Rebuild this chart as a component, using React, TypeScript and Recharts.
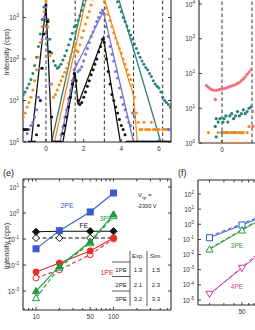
import React from 'react'
import { ComposedChart, Line, Scatter, XAxis, YAxis, ReferenceLine } from 'recharts'

const FONT = '"Liberation Sans", Arial, sans-serif'
const AX = '#2b2b2b'
const TEAL = '#2a8078'
const ORANGE = '#f98a1c'
const PURPLE = '#7975c9'
const BLACK = '#111111'
const PINK = '#f47079'
const BLUE = '#3a5ad2'
const GREEN = '#1f9a3e'
const RED = '#ee2a2a'
const MAGENTA = '#cc3aa6'

// (d) spectra: electron energy (eV) and counts per series
const energy = [
  -1.2, -1.1, -1.0, -0.9, -0.8, -0.7, -0.6, -0.5, -0.4, -0.3,
  -0.2, -0.1, 0, 0.1, 0.2, 0.3, 0.4, 0.5, 0.6, 0.7,
  0.8, 0.9, 1.0, 1.1, 1.2, 1.3, 1.4, 1.5, 1.6, 1.7,
  1.8, 1.9, 2.0, 2.1, 2.2, 2.3, 2.4, 2.5, 2.6, 2.7,
  2.8, 2.9, 3.0, 3.1, 3.2, 3.3, 3.4, 3.5, 3.6, 3.7,
  3.8, 3.9, 4.0, 4.1, 4.2, 4.3, 4.4, 4.5, 4.6, 4.7,
  4.8, 4.9, 5.0, 5.1, 5.2, 5.3, 5.4, 5.5, 5.6, 5.7,
  5.8, 5.9, 6.0, 6.1, 6.2, 6.3, 6.4, 6.5, 6.6,
]
const tealCounts = [
  14, 16, 20, 25, 32, 45, 70, 110, 200, 400,
  900, 1800, 3500, 900, 300, 140, 90, 70, 60, 65,
  75, 95, 120, 160, 220, 300, 420, 600, 650, 850,
  1100, 1500, 2000, 2700, 3500, 4500, 6000, 7000, 8000, 9000,
  9500, 9000, 9000, 8500, 7500, 6500, 5500, 4500, 3800, 3000,
  2400, 1800, 1400, 1000, 800, 620, 480, 380, 300, 230,
  180, 140, 110, 90, 75, 62, 55, 45, 38, 30,
  25, 22, 20, 16, 12, 10, 9, 8, 7,
]
const orangeCounts = [
  4, 5, 7, 9, 12, 18, 30, 55, 110, 250,
  600, 1400, 2500, 600, 120, 25, 12, 14, 18, 24,
  30, 38, 48, 60, 80, 110, 150, 200, 160, 150,
  220, 330, 480, 700, 1000, 1400, 2000, 2800, 3500, 4000,
  4200, 4000, 3300, 2400, 1700, 1200, 850, 600, 430, 320,
  240, 180, 140, 100, 75, 55, 42, 32, 24, 12,
  5, 3, 2, 2, 3, 2, 2, 2, 3, 2,
  2, 2, 2, 1, 2, 2, 2, 2, 2,
]
const purpleCounts = [
  1, 1, 1.6, 2, 2.5, 3, 4, 6, 12, 60,
  300, 1000, 1800, 300, 25, 4, 1, 1, 1, 1,
  1.5, 2.3, 4, 6, 11, 18, 30, 55, 75, 50,
  55, 65, 90, 130, 180, 250, 350, 450, 600, 800,
  1000, 1300, 1500, 1200, 600, 350, 200, 130, 90, 50,
  35, 20, 12, 8, 6, 4, 3, 2.5, 5, 4,
  1, 1, 1, 1, 1, 1, 1, 1, 1, 1,
  1, 1, 1, 1, 1, 1, 1, 2, 2,
]
const blackCounts = [
  2, 2, 2, 1, 1, 1, 1, 1.5, 2.5, 10,
  60, 400, 2000, 800, 150, 4, 1, 1, 1, 1,
  1, 1.6, 2.5, 4, 7, 12, 25, 45, 30, 10,
  8, 9, 12, 16, 22, 30, 42, 55, 75, 100,
  150, 200, 300, 250, 100, 50, 25, 14, 10, 7,
  5, 3.5, 2.5, 2, 1.5, 1, 1, 1, 1, 1,
  1, 1, 1, 1, 1, 1, 1, 1, 1, 1,
  1, 1, 1, 1, 1, 1, 1, 1, 1,
]
const photonLines = [0, 1.55, 3.1, 4.65, 6.2]

// fitted curves (vertices)
const tealFitE = [0.3, 2.8, 6.1]
const tealFitI = [1, 120000, 1]
const orangeFitE = [0.45, 2.54, 4.65, 4.85]
const orangeFitI = [1, 19000, 13, 1]
const purpleFitE = [0.75, 1.55, 3.05, 4.65]
const purpleFitI = [1, 60, 1400, 1]
const blackFitAE = [-0.78, 0, 0.32]
const blackFitAI = [1, 2000, 1]
const blackFitBE = [0.9, 1.55, 1.7, 3.05, 3.95]
const blackFitBI = [1, 47, 8, 330, 1]

// top-right spectra
const pinkE = [-0.8, -0.7, -0.6, -0.5, -0.4, -0.3, -0.2, -0.1, 0, 0.1, 0.2, 0.3, 0.4, 0.5, 0.6, 0.7, 0.8, 0.9, 1.0, 1.1, 1.2, 1.3, 1.4, 1.5, -0.35, 1.58, 1.6]
const pinkI = [45, 40, 36, 34, 33, 33, 34, 35, 36, 37, 38, 40, 42, 44, 46, 48, 52, 56, 62, 70, 80, 95, 110, 130, 18, 8, 3]
const tealBE = [-0.35, -0.3, -0.2, -0.1, 0, 0.05, 0.1, 0.2, 0.25, 0.3, 0.4, 0.5, 0.6, 0.65, 0.7, 0.8, 0.9, 1.0, 1.1, 1.2, 1.3, 1.4, 1.5, -0.3]
const tealBI = [3, 5, 4, 5, 2, 4, 5, 6, 2, 4, 6, 7, 5, 2, 6, 8, 6, 7, 9, 7, 8, 10, 11, 1.5]
const orangeBE = [-1.15, -0.8, -0.7, -0.4, -0.2, -0.05, 0, 0.1, 0.2, 0.3, 0.4, 0.45, 0.5, 0.6, 0.7, 0.8, 0.85, 0.9, 1.0, 1.1, 1.2, 1.25, 1.3, 1.4]
const orangeBI = [1, 1, 2, 1, 2, 1, 1, 2, 2, 1, 2, 1, 2, 2, 1, 2, 1, 2, 2, 2, 1, 1, 2, 3]

// (e) yield vs laser intensity
const intensE = [10, 20, 50, 100]
const pe2 = [0.042, 0.21, 1.1, 5.9]
const feExp = [0.19, 0.2, 0.2, 0.2]
const feSim = [0.11, 0.11, 0.11, 0.11]
const pe3 = [1e-3, 9e-3, 0.08, 0.9]
const pe3Sim = [5.4e-4, 8e-3, 0.07, 0.77]
const pe1 = [5.4e-3, 0.012, 0.035, 0.11]
const pe1Sim = [3.2e-3, 6.5e-3, 0.025, 0.1]

// (f)
const intensF = [20, 50, 100]
const f2pe = [0.13, 0.9, 4]
const f2peSim = [0.16, 1.1, 5]
const f3pe = [0.022, 0.4, 3.5]
const f3peSim = [0.025, 0.45, 4.2]
const f4pe = [2.5e-5, 1.3e-3, 0.025]
const f4peSim = [2.2e-5, 1.5e-3, 0.035]

const tableRows = [
  ['1PE', '1.3', '1.5'],
  ['2PE', '2.1', '2.3'],
  ['3PE', '3.2', '3.3'],
]

type Pt = { x: number; y: number }
const pts = (xs: number[], ys: number[]): Pt[] =>
  xs.map((x, i) => ({ x, y: ys[i] })).filter((p) => p.y != null)

const axisLine = { stroke: AX, strokeWidth: 1.1 }
const tickText = { fontFamily: FONT, fontSize: 6.5, fill: '#333' }

const LeftPowTick = (props: any) => {
  const { x, y, payload } = props
  const ax = x + 3
  const e = Math.round(Math.log10(payload.value))
  return (
    <g>
      <line x1={ax} x2={ax + 3} y1={y} y2={y} stroke={AX} strokeWidth={0.9} />
      <text x={x - 1} y={y + 2.5} textAnchor="end" {...tickText}>
        10<tspan dy={-2.8} fontSize={4.6}>{e}</tspan>
      </text>
    </g>
  )
}
const RightTick = (props: any) => {
  const ax = props.x - 3
  return <line x1={ax} x2={ax - 3} y1={props.y} y2={props.y} stroke={AX} strokeWidth={0.9} />
}
const TopTick = (props: any) => {
  const ax = props.y + 2
  return <line x1={props.x} x2={props.x} y1={ax} y2={ax + 2.5} stroke={AX} strokeWidth={0.9} />
}
const bottomTick = (labels: number[]) => (props: any) => {
  const { x, y, payload } = props
  const ax = y - 2
  const show = labels.includes(payload.value)
  return (
    <g>
      <line x1={x} x2={x} y1={ax} y2={ax - (show ? 3 : 2)} stroke={AX} strokeWidth={0.9} />
      {show && (
        <text x={x} y={ax + 9} textAnchor="middle" {...tickText}>
          {payload.value}
        </text>
      )}
    </g>
  )
}

const dotShape = (c: string, r = 1.5) => (p: any) => <circle cx={p.cx} cy={p.cy} r={r} fill={c} />

type M = { cx: number; cy: number; c: string; open?: boolean; s?: number }
const Sq = ({ cx, cy, c, open, s = 3 }: M) => (
  <rect x={cx - s} y={cy - s} width={2 * s} height={2 * s} fill={open ? '#fff' : c} stroke={c} strokeWidth={1} />
)
const Dia = ({ cx, cy, c, open, s = 3.6 }: M) => (
  <path d={`M${cx},${cy - s}L${cx + s},${cy}L${cx},${cy + s}L${cx - s},${cy}Z`} fill={open ? '#fff' : c} stroke={c} strokeWidth={1} />
)
const Circ = ({ cx, cy, c, open, s = 3 }: M) => (
  <circle cx={cx} cy={cy} r={s} fill={open ? '#fff' : c} stroke={c} strokeWidth={1} />
)
const TriUp = ({ cx, cy, c, open, s = 3.6 }: M) => (
  <path d={`M${cx},${cy - s}L${cx + s},${cy + s * 0.75}L${cx - s},${cy + s * 0.75}Z`} fill={open ? '#fff' : c} stroke={c} strokeWidth={1} />
)
const TriDown = ({ cx, cy, c, open, s = 3.6 }: M) => (
  <path d={`M${cx},${cy + s}L${cx + s},${cy - s * 0.75}L${cx - s},${cy - s * 0.75}Z`} fill={open ? '#fff' : c} stroke={c} strokeWidth={1} />
)
const mark = (Shape: (m: M) => any, c: string, open = false, s?: number) => (p: any) =>
  <Shape key={p.index} cx={p.cx} cy={p.cy} c={c} open={open} s={s} />

const refLines = (xs: number[]) =>
  xs.map((v) => (
    <ReferenceLine key={v} x={v} stroke="#333" strokeWidth={1} strokeDasharray="3.5 2.5" />
  ))

export default function App() {
  const eDom = [Math.pow(10, -3.73), Math.pow(10, 1.31)]
  const fDom = [Math.pow(10, -5.33), Math.pow(10, 2.925)]
  const ePowTicks = [1e-3, 1e-2, 1e-1, 1, 10]
  const fPowTicks = [1e-5, 1e-4, 1e-3, 1e-2, 1e-1, 1, 10, 100]
  const eMinor = [7, 8, 9, 10, 20, 30, 40, 50, 60, 70, 80, 90, 100, 200, 300, 400, 500]
  const fMinor = [20, 30, 40, 50, 60, 70, 80, 90, 100, 200]
  return (
    <div style={{ position: 'absolute', left: 0, top: 0, width: 255, height: 330, overflow: 'hidden', background: '#fff', fontFamily: FONT }}>
      {/* top-left spectra */}
      <div style={{ position: 'absolute', left: 0, top: -30 }}>
        <ComposedChart width={175} height={190} margin={{ top: 6, right: 3, bottom: 0, left: 0 }}>
          <XAxis type="number" dataKey="x" domain={[-1.22, 6.64]} allowDataOverflow ticks={[0, 2, 4, 6]} interval={0} height={18} tickSize={0} tickMargin={2} tickLine={false} axisLine={axisLine} tick={bottomTick([0, 2, 4, 6])} />
          <YAxis type="number" dataKey="y" scale="log" domain={[1, 10000]} allowDataOverflow ticks={[1, 10, 100, 1000]} interval={0} width={23} tickSize={0} tickMargin={3} tickLine={false} axisLine={axisLine} tick={LeftPowTick} />
          <YAxis yAxisId="r" orientation="right" type="number" dataKey="y" scale="log" domain={[1, 10000]} allowDataOverflow ticks={[1, 10, 100, 1000]} interval={0} width={1} tickSize={0} tickMargin={3} tickLine={false} axisLine={axisLine} tick={RightTick} />
          {refLines(photonLines)}
          <Scatter data={pts(energy, tealCounts)} shape={dotShape(TEAL)} isAnimationActive={false} />
          <Scatter data={pts(energy, orangeCounts)} shape={dotShape(ORANGE)} isAnimationActive={false} />
          <Scatter data={pts(energy, purpleCounts)} shape={dotShape(PURPLE)} isAnimationActive={false} />
          <Scatter data={pts(energy, blackCounts)} shape={dotShape(BLACK)} isAnimationActive={false} />
          <Line data={pts(tealFitE, tealFitI)} dataKey="y" type="linear" stroke={TEAL} strokeWidth={1.3} dot={false} isAnimationActive={false} />
          <Line data={pts(orangeFitE, orangeFitI)} dataKey="y" type="linear" stroke={ORANGE} strokeWidth={1.3} dot={false} isAnimationActive={false} />
          <Line data={pts(purpleFitE, purpleFitI)} dataKey="y" type="linear" stroke={PURPLE} strokeWidth={1.3} dot={false} isAnimationActive={false} />
          <Line data={pts(blackFitAE, blackFitAI)} dataKey="y" type="linear" stroke={BLACK} strokeWidth={1.3} dot={false} isAnimationActive={false} />
          <Line data={pts(blackFitBE, blackFitBI)} dataKey="y" type="linear" stroke={BLACK} strokeWidth={1.3} dot={false} isAnimationActive={false} />
        </ComposedChart>
      </div>

      {/* top-right spectra */}
      <div style={{ position: 'absolute', left: 176, top: -19 }}>
        <ComposedChart width={128} height={180} margin={{ top: 6, right: 4, bottom: 0, left: 0 }}>
          <XAxis type="number" dataKey="x" domain={[-1.189, 4.031]} allowDataOverflow ticks={[0]} interval={0} height={18} tickSize={0} tickMargin={2} tickLine={false} axisLine={axisLine} tick={bottomTick([0])} />
          <YAxis type="number" dataKey="y" scale="log" domain={[1, 30900]} allowDataOverflow ticks={[1, 10, 100, 1000, 10000]} interval={0} width={23} tickSize={0} tickMargin={3} tickLine={false} axisLine={axisLine} tick={LeftPowTick} />
          {refLines(photonLines)}
          <Scatter data={pts(pinkE, pinkI)} shape={dotShape(PINK, 1.6)} isAnimationActive={false} />
          <Scatter data={pts(tealBE, tealBI)} shape={dotShape(TEAL, 1.6)} isAnimationActive={false} />
          <Scatter data={pts(orangeBE, orangeBI)} shape={dotShape(ORANGE, 1.6)} isAnimationActive={false} />
        </ComposedChart>
      </div>

      {/* (e) */}
      <div style={{ position: 'absolute', left: 0, top: 172 }}>
        <ComposedChart width={175} height={156} margin={{ top: 6, right: 3, bottom: 0, left: 0 }}>
          <XAxis type="number" dataKey="x" scale="log" domain={[6.79, 552]} allowDataOverflow ticks={eMinor} interval={0} height={18} tickSize={0} tickMargin={2} tickLine={false} axisLine={axisLine} tick={bottomTick([10, 50, 100])} />
          <XAxis xAxisId="t" orientation="top" type="number" dataKey="x" scale="log" domain={[6.79, 552]} allowDataOverflow ticks={eMinor} interval={0} height={1} tickSize={0} tickMargin={2} tickLine={false} axisLine={axisLine} tick={TopTick} />
          <YAxis type="number" dataKey="y" scale="log" domain={eDom} allowDataOverflow ticks={ePowTicks} interval={0} width={23} tickSize={0} tickMargin={3} tickLine={false} axisLine={axisLine} tick={LeftPowTick} />
          <YAxis yAxisId="r" orientation="right" type="number" dataKey="y" scale="log" domain={eDom} allowDataOverflow ticks={ePowTicks} interval={0} width={1} tickSize={0} tickMargin={3} tickLine={false} axisLine={axisLine} tick={RightTick} />
          <Line data={pts(intensE, feSim)} dataKey="y" stroke={BLACK} strokeWidth={1.1} strokeDasharray="4 2.5" dot={mark(Dia, BLACK, true)} isAnimationActive={false} />
          <Line data={pts(intensE, feExp)} dataKey="y" stroke={BLACK} strokeWidth={1.1} dot={mark(Dia, BLACK)} isAnimationActive={false} />
          <Line data={pts(intensE, pe1Sim)} dataKey="y" stroke={RED} strokeWidth={1.1} strokeDasharray="4 2.5" dot={mark(Circ, RED, true)} isAnimationActive={false} />
          <Line data={pts(intensE, pe1)} dataKey="y" stroke={RED} strokeWidth={1.1} dot={mark(Circ, RED)} isAnimationActive={false} />
          <Line data={pts(intensE, pe3Sim)} dataKey="y" stroke={GREEN} strokeWidth={1.1} strokeDasharray="4 2.5" dot={mark(TriUp, GREEN, true)} isAnimationActive={false} />
          <Line data={pts(intensE, pe3)} dataKey="y" stroke={GREEN} strokeWidth={1.1} dot={mark(TriUp, GREEN)} isAnimationActive={false} />
          <Line data={pts(intensE, pe2)} dataKey="y" stroke={BLUE} strokeWidth={1.1} dot={mark(Sq, BLUE)} isAnimationActive={false} />
        </ComposedChart>
      </div>

      {/* (f) */}
      <div style={{ position: 'absolute', left: 175, top: 173 }}>
        <ComposedChart width={129} height={150} margin={{ top: 6, right: 4, bottom: 0, left: 0 }}>
          <XAxis type="number" dataKey="x" scale="log" domain={[14.46, 256.6]} allowDataOverflow ticks={fMinor} interval={0} height={18} tickSize={0} tickMargin={2} tickLine={false} axisLine={axisLine} tick={bottomTick([50])} />
          <XAxis xAxisId="t" orientation="top" type="number" dataKey="x" scale="log" domain={[14.46, 256.6]} allowDataOverflow ticks={fMinor} interval={0} height={1} tickSize={0} tickMargin={2} tickLine={false} axisLine={axisLine} tick={TopTick} />
          <YAxis type="number" dataKey="y" scale="log" domain={fDom} allowDataOverflow ticks={fPowTicks} interval={0} width={23} tickSize={0} tickMargin={3} tickLine={false} axisLine={axisLine} tick={LeftPowTick} />
          <Line data={pts(intensF, f2peSim)} dataKey="y" stroke={BLUE} strokeWidth={1} strokeDasharray="4 2.5" dot={false} isAnimationActive={false} />
          <Line data={pts(intensF, f2pe)} dataKey="y" stroke={BLUE} strokeWidth={1} dot={mark(Sq, BLUE, true)} isAnimationActive={false} />
          <Line data={pts(intensF, f3peSim)} dataKey="y" stroke={GREEN} strokeWidth={1} strokeDasharray="4 2.5" dot={false} isAnimationActive={false} />
          <Line data={pts(intensF, f3pe)} dataKey="y" stroke={GREEN} strokeWidth={1} dot={mark(TriUp, GREEN, true)} isAnimationActive={false} />
          <Line data={pts(intensF, f4peSim)} dataKey="y" stroke={MAGENTA} strokeWidth={1} strokeDasharray="4 2.5" dot={false} isAnimationActive={false} />
          <Line data={pts(intensF, f4pe)} dataKey="y" stroke={MAGENTA} strokeWidth={1} dot={mark(TriDown, MAGENTA, true)} isAnimationActive={false} />
        </ComposedChart>
      </div>

      {/* labels and table */}
      <svg width={255} height={330} style={{ position: 'absolute', left: 0, top: 0, pointerEvents: 'none' }} fontFamily={FONT}>
        <text transform="translate(9,52) rotate(-90)" textAnchor="middle" fontSize={7.5} fill="#333">Intensity (cps)</text>
        <text transform="translate(9,246) rotate(-90)" textAnchor="middle" fontSize={7.5} fill="#333">Intensity (cps)</text>
        <text x={3} y={176} fontSize={9} fill="#222">(e)</text>
        <text x={178} y={176} fontSize={9} fill="#222">(f)</text>
        <text x={67} y={208} textAnchor="middle" fontSize={7} fill={BLUE}>2PE</text>
        <text x={84} y={228} textAnchor="middle" fontSize={7} fill="#222">FE</text>
        <text x={106} y={221} textAnchor="middle" fontSize={7} fill={GREEN}>3PE</text>
        <text x={107} y={275} textAnchor="middle" fontSize={7} fill={RED}>1PE</text>
        <text x={237} y={248} textAnchor="middle" fontSize={6.5} fill={GREEN}>3PE</text>
        <text x={237} y={289} textAnchor="middle" fontSize={6.5} fill={MAGENTA}>4PE</text>
        <text x={138} y={197} fontSize={6} fill="#222">
          V<tspan dy={1.5} fontSize={4.2}>tip</tspan><tspan dy={-1.5}> =</tspan>
        </text>
        <text x={137} y={208} fontSize={5.6} fill="#222">-2300 V</text>
        <text x={138} y={258} textAnchor="middle" fontSize={6} fill="#222">Exp.</text>
        <text x={156} y={258} textAnchor="middle" fontSize={6} fill="#222">Sim.</text>
        {tableRows.map((r, i) => (
          <g key={r[0]}>
            <text x={121} y={272 + i * 14.5} textAnchor="middle" fontSize={6} fill="#222">{r[0]}</text>
            <text x={138} y={272 + i * 14.5} textAnchor="middle" fontSize={6} fill="#222">{r[1]}</text>
            <text x={156} y={272 + i * 14.5} textAnchor="middle" fontSize={6} fill="#222">{r[2]}</text>
            <line x1={112} x2={130} y1={262 + i * 14.5} y2={262 + i * 14.5} stroke="#333" strokeWidth={0.8} />
          </g>
        ))}
        <line x1={130} x2={130} y1={251} y2={306} stroke="#333" strokeWidth={0.8} />
        <line x1={147} x2={147} y1={251} y2={306} stroke="#333" strokeWidth={0.8} />
      </svg>
    </div>
  )
}
